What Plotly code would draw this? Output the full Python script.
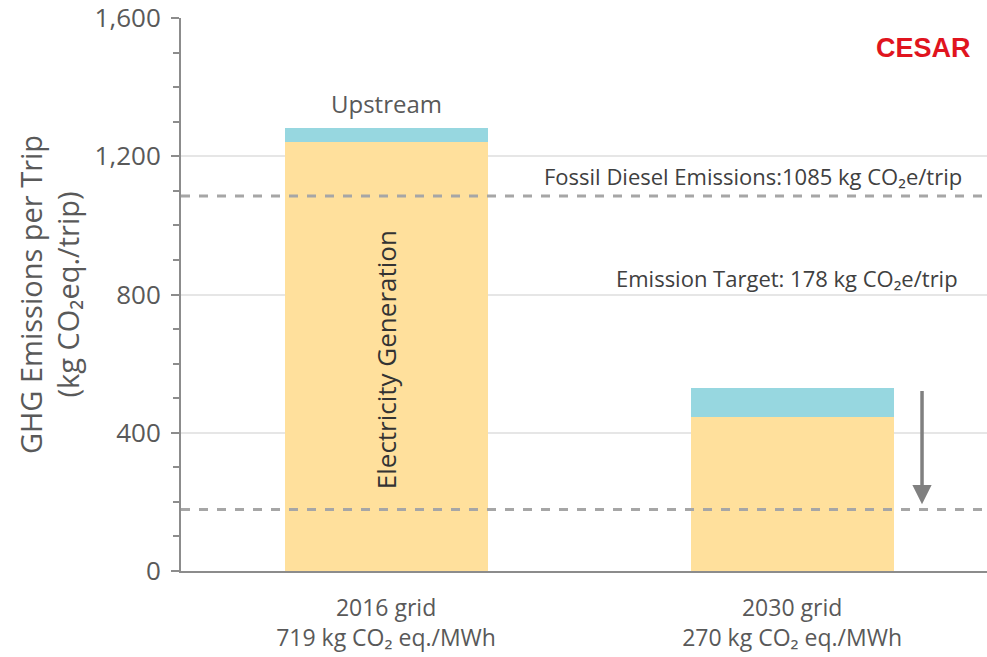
import plotly.graph_objects as go

# Grid scenarios and per-trip emissions (kg CO2 eq./trip)
categories = ["2016 grid<br>719 kg CO₂ eq./MWh", "2030 grid<br>270 kg CO₂ eq./MWh"]
electricity = [1240, 445]
upstream = [42, 85]
diesel_ref = 1085
target = 178
y_ticks = [0, 400, 800, 1200, 1600]
y_tick_text = ["0", "400", "800", "1,200", "1,600"]

GRAY_TXT = "#595959"
FONT = "'Open Sans', Lato, sans-serif"

fig = go.Figure()
fig.add_trace(go.Bar(x=[0, 1], y=electricity, name="Electricity Generation",
                     marker=dict(color="#FFE09C", line=dict(width=0)), width=0.5))
fig.add_trace(go.Bar(x=[0, 1], y=upstream, name="Upstream",
                     marker=dict(color="#97D7E0", line=dict(width=0)), width=0.5))

# Reference levels
for val in (diesel_ref, target):
    fig.add_shape(type="line", xref="paper", x0=0, x1=1, yref="y", y0=val, y1=val,
                  line=dict(color="#a6a6a6", width=3, dash="dash"), layer="above")

annotations = [
    dict(x=0, y=1354, text="Upstream", showarrow=False,
         font=dict(size=24, color=GRAY_TXT)),
    dict(x=0, y=610, text="Electricity Generation", textangle=-90,
         showarrow=False, font=dict(size=26, color="#333333")),
    dict(x=0.904, xref="x", y=1143,
         text="Fossil Diesel Emissions:1085 kg CO₂e/trip", showarrow=False,
         font=dict(size=22, color="#404040")),
    dict(x=0.988, xref="x", y=848,
         text="Emission Target: 178 kg CO₂e/trip", showarrow=False,
         font=dict(size=22, color="#404040")),
    dict(x=1.32, y=target + 15, ax=1.32, ay=electricity[1] + upstream[1] - 5,
         xref="x", yref="y", axref="x", ayref="y", text="", showarrow=True,
         arrowhead=2, arrowsize=1.1, arrowwidth=3.5, arrowcolor="#808080"),
    dict(x=1.0, xref="paper", xanchor="right", xshift=-14, y=0.946, yref="paper",
         yanchor="middle", text="<b>CESAR</b>", showarrow=False,
         font=dict(size=27, color="#e0141e", family="'Liberation Sans', Arial, sans-serif")),
]

fig.update_layout(
    width=987, height=657, barmode="stack", showlegend=False,
    margin=dict(l=181, r=0, t=18, b=86),
    paper_bgcolor="white", plot_bgcolor="white",
    font=dict(family=FONT, color=GRAY_TXT),
    annotations=annotations,
    xaxis=dict(range=[-0.505, 1.48], tickvals=[0, 1], ticktext=categories,
               tickfont=dict(size=23, color=GRAY_TXT), showgrid=False,
               showline=True, linecolor="#8c8c8c", linewidth=2, ticks="",
               ticklabelstandoff=15),
    yaxis=dict(range=[0, 1600], tickvals=y_ticks, ticktext=y_tick_text,
               tickfont=dict(size=26, color=GRAY_TXT),
               ticklabeloverflow="allow", ticklabelstandoff=5,
               showgrid=True, gridcolor="#e6e6e6", gridwidth=2,
               showline=True, linecolor="#8c8c8c", linewidth=2,
               ticks="outside", ticklen=8, tickcolor="#8c8c8c", tickwidth=2,
               minor=dict(dtick=100, ticks="outside", ticklen=6, tickcolor="#8c8c8c",
                          tickwidth=1.5, showgrid=False),
               title=dict(text="GHG Emissions per Trip<br>(kg CO₂eq./trip)",
                          font=dict(size=29, color=GRAY_TXT), standoff=6),
               zeroline=False),
)

fig.write_html("out.html")
